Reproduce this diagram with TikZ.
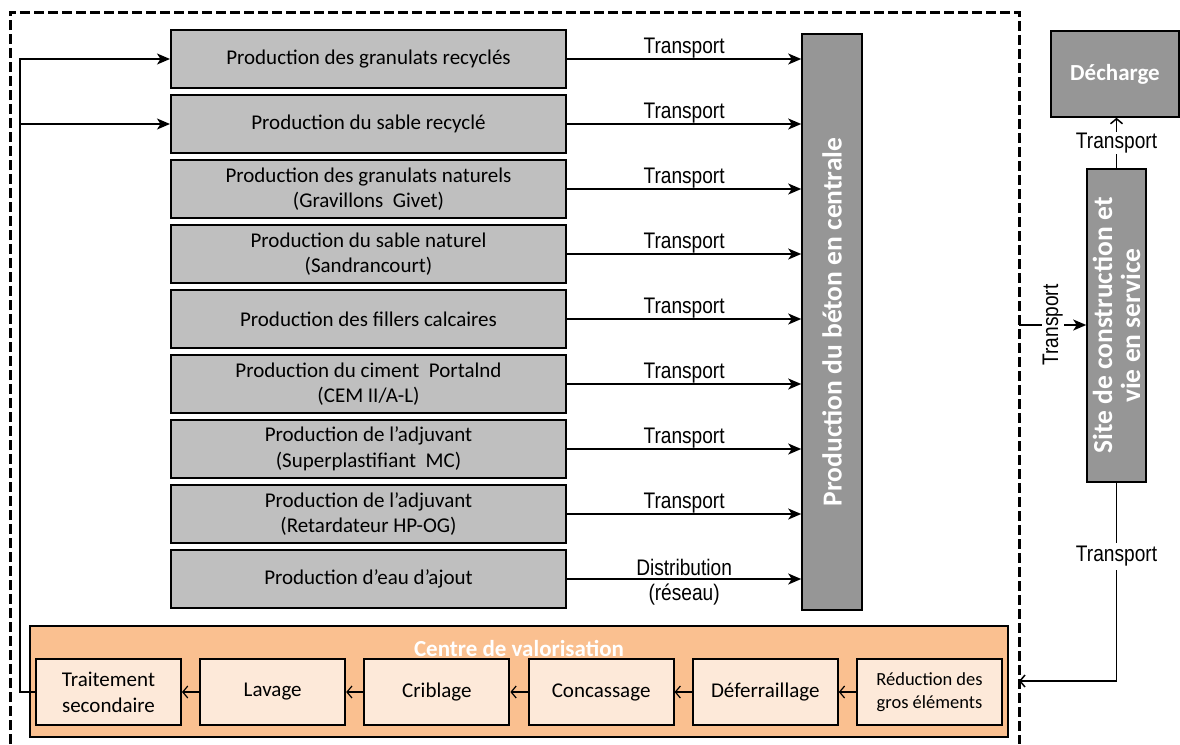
\documentclass[tikz,border=0pt]{standalone}
\usepackage{fontspec}
\setmainfont{Carlito}
\newfontfamily\narrowsans[FakeStretch=0.85]{Liberation Sans}
\usepackage{tikz}
\usetikzlibrary{arrows.meta}
\definecolor{prodgray}{HTML}{BFBFBF}
\definecolor{betongray}{HTML}{969696}
\definecolor{valorange}{HTML}{FAC090}
\definecolor{valpale}{HTML}{FDE9D9}

\begin{document}
\begin{tikzpicture}[x=1pt,y=-1pt,
  prod/.style={rectangle,fill=prodgray,draw=black,line width=2pt,minimum width=395pt,minimum height=58pt,inner sep=0pt,align=center,font=\fontsize{21}{25.6}\selectfont},
  darkbox/.style={rectangle,fill=betongray,draw=black,line width=1.6pt,inner sep=0pt},
  btext/.style={text=white,align=center,font=\fontsize{27.5}{28}\selectfont\bfseries},
  valstep/.style={rectangle,fill=valpale,draw=black,line width=2pt,minimum width=145pt,minimum height=66pt,inner sep=0pt,align=center,font=\fontsize{21}{26}\selectfont},
  tlabel/.style={inner sep=0.5pt,font=\narrowsans\fontsize{22.5}{24}\selectfont},
  feed/.style={-{Stealth[length=13pt,width=11pt,inset=3.5pt]},draw=black,line width=1.5pt},
  back/.style={-{Straight Barb[length=5pt,width=12pt]},draw=black,line width=1.5pt}]
\useasboundingbox (0,0) rectangle (1180,744);
% zone of the study
\draw[line width=3pt,dash pattern=on 10pt off 4pt] (10,744) -- (10,12) -- (1019,12) -- (1019,744);
\coordinate (frameout) at (1019,325);
\coordinate (frameback) at (1019,681);
% production of the constituents
\node[prod] (p1) at (368.5,59) {Production des granulats recyclés};
\node[prod] (p2) at (368.5,124) {Production du sable recyclé};
\node[prod] (p3) at (368.5,189) {Production des granulats naturels\\(Gravillons~~Givet)};
\node[prod] (p4) at (368.5,254) {Production du sable naturel\\(Sandrancourt)};
\node[prod] (p5) at (368.5,319) {Production des fillers calcaires};
\node[prod] (p6) at (368.5,384) {Production du ciment~~Portalnd\\(CEM II/A-L)};
\node[prod] (p7) at (368.5,449) {Production de l’adjuvant\\(Superplastifiant~~MC)};
\node[prod] (p8) at (368.5,514) {Production de l’adjuvant\\(Retardateur HP-OG)};
\node[prod] (p9) at (368.5,579) {Production d’eau d’ajout};
\node[darkbox,minimum width=60pt,minimum height=576pt] (beton) at (832,322) {};
\node[btext,rotate=90] (betonlbl) at (beton.center) {Production du béton en centrale};
% right side
\node[darkbox,minimum width=128pt,minimum height=86pt] (decharge) at (1115,74) {};
\node[btext,font=\fontsize{23}{25}\selectfont\bfseries] (dechargelbl) at (decharge.center) {Décharge};
\node[darkbox,minimum width=59pt,minimum height=313pt] (site) at (1116.5,325.5) {};
\node[btext,rotate=90] (sitelbl) at (site.center) {Site de construction et\\vie en service};
% recycling centre
\node[rectangle,fill=valorange,draw=black,line width=1.6pt,minimum width=978pt,minimum height=111pt,inner sep=0pt] (centre) at (519,681.5) {};
\node[text=white,font=\fontsize{23}{25}\selectfont\bfseries] (centrelbl) at (519,648) {Centre de valorisation};
\node[valstep] (trait) at (108.5,692) {Traitement\\secondaire};
\node[valstep] (lavage) at (272.7,692) {Lavage};
\node[valstep] (crib) at (436.9,692) {Criblage};
\node[valstep] (conc) at (601.1,692) {Concassage};
\node[valstep] (defer) at (765.3,692) {Déferraillage};
\node[valstep,font=\fontsize{18.5}{23}\selectfont] (reduc) at (929.5,692) {Réduction des\\gros éléments};
% flows to the concrete plant
\draw[feed] (p1.east) -- node[tlabel,above] {Transport} (p1.east -| beton.west);
\draw[feed] (p2.east) -- node[tlabel,above] {Transport} (p2.east -| beton.west);
\draw[feed] (p3.east) -- node[tlabel,above] {Transport} (p3.east -| beton.west);
\draw[feed] (p4.east) -- node[tlabel,above] {Transport} (p4.east -| beton.west);
\draw[feed] (p5.east) -- node[tlabel,above] {Transport} (p5.east -| beton.west);
\draw[feed] (p6.east) -- node[tlabel,above] {Transport} (p6.east -| beton.west);
\draw[feed] (p7.east) -- node[tlabel,above] {Transport} (p7.east -| beton.west);
\draw[feed] (p8.east) -- node[tlabel,above] {Transport} (p8.east -| beton.west);
\draw[feed] (p9.east) -- node[tlabel,above=2pt] {Distribution} node[tlabel,below=4pt] {(réseau)} (p9.east -| beton.west);
% site and landfill
\draw[feed] (frameout) -- node[tlabel,fill=white,rotate=90,inner sep=1pt] {Transport} (frameout -| site.west);
\draw[back] (site.north) -- node[tlabel,fill=white,inner sep=1pt] {Transport} (site.north |- decharge.south);
\draw[back] (site.south) |- node[tlabel,fill=white,pos=0.186,inner ysep=3pt] {Transport} (frameback);
% recycling chain
\draw[back,line width=1.2pt] (reduc.west) -- (defer.east);
\draw[back,line width=1.2pt] (defer.west) -- (conc.east);
\draw[back,line width=1.2pt] (conc.west) -- (crib.east);
\draw[back,line width=1.2pt] (crib.west) -- (lavage.east);
\draw[back,line width=1.2pt] (lavage.west) -- (trait.east);
\coordinate (fb) at (20,692);
\draw[feed] (trait.west) -- (fb) |- (p1.west);
\draw[feed] (fb |- p2.west) -- (p2.west);
\end{tikzpicture}
\end{document}
